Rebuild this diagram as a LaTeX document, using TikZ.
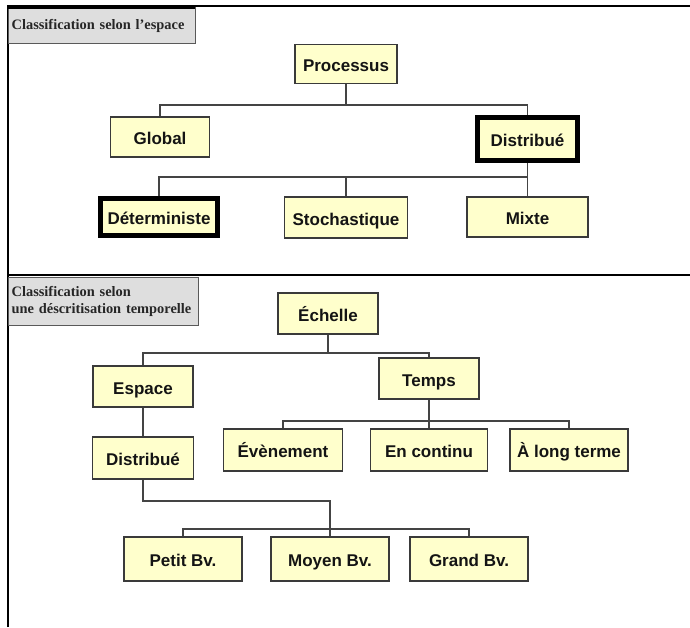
\documentclass[tikz,border=0pt]{standalone}
\usepackage{fontspec}
\setmainfont{Liberation Serif}
\newfontfamily\boxfont{Liberation Sans}
\definecolor{boxfill}{HTML}{FFFFCC}
\definecolor{boxline}{HTML}{3A3A3A}
\definecolor{labfill}{HTML}{DEDEDE}
\definecolor{conn}{HTML}{444444}
\begin{document}
\begin{tikzpicture}[x=1pt,y=-1pt,
  box/.style={draw=boxline, line width=1.4pt, fill=boxfill, inner sep=0pt,
    text height=15.5pt, text depth=0.5pt,
    font=\boxfont\bfseries\fontsize{17}{19}\selectfont, text=black!92},
  thickbox/.style={box, draw=black, line width=5pt},
  lab/.style={draw=black!65, line width=1.3pt, fill=labfill, inner sep=0pt,
    font=\bfseries\fontsize{14.4}{17.5}\selectfont, text=black!85, anchor=north west},
  link/.style={draw=conn, line width=1.4pt},
  frame/.style={draw=black, line width=2pt}]
\useasboundingbox (0,0) rectangle (690,627);
% frame
\draw[frame] (8,627) -- (8,6) -- (690,6);
\draw[frame, line width=1.5pt] (8,275) -- (690,275);
% labels
\node[lab, minimum width=187, minimum height=36, text width=185, align=left] (lab1) at (8,7) {\hspace*{2pt}Classification selon l'espace};
\draw[black, line width=4pt] (8,7) -- (195,7);
\node[lab, minimum width=190, minimum height=48, text width=188, align=left] (lab2) at (8,277)
  {\hspace*{2pt}Classification selon\\\hspace*{2pt}une déscritisation temporelle};
% top tree
\node[box, minimum width=102, minimum height=39] (proc) at (346,64) {Processus};
\node[box, minimum width=99, minimum height=40] (glob) at (160,137) {Global};
\node[thickbox, minimum width=100, minimum height=43] (dist) at (527.5,139) {Distribué};
\node[thickbox, minimum width=117, minimum height=37] (det) at (159,217) {Déterministe};
\node[box, minimum width=123, minimum height=41] (stoch) at (346,217.5) {Stochastique};
\node[box, minimum width=121, minimum height=40] (mixte) at (527.5,217) {Mixte};
\coordinate (j1) at (346,105);
\coordinate (j2) at (527.5,177);
\draw[link] (proc.south) -- (j1);
\draw[link] (j1) -| (glob.north);
\draw[link] (j1) -| (dist.north);
\draw[link] (dist.south) -- (j2);
\draw[link] (j2) -| (det.north);
\draw[link] (stoch.north) -- (stoch.north |- j2);
\draw[link] (j2) -- (mixte.north);
% bottom tree
\node[box, minimum width=100, minimum height=41] (ech) at (328,313.5) {Échelle};
\node[box, minimum width=100, minimum height=41] (esp) at (143,386.5) {Espace};
\node[box, minimum width=100, minimum height=41] (temps) at (429,378.5) {Temps};
\node[box, minimum width=101, minimum height=42] (dist2) at (143,458) {Distribué};
\node[box, minimum width=119, minimum height=42] (even) at (283,450) {Évènement};
\node[box, minimum width=117, minimum height=42] (cont) at (429,450) {En continu};
\node[box, minimum width=118, minimum height=42] (long) at (569,450) {À long terme};
\node[box, minimum width=118, minimum height=44] (petit) at (183,559) {Petit Bv.};
\node[box, minimum width=118, minimum height=44] (moyen) at (330,559) {Moyen Bv.};
\node[box, minimum width=118, minimum height=44] (grand) at (469,559) {Grand Bv.};
\coordinate (k1) at (328,353);
\coordinate (k2) at (429,421);
\coordinate (k3) at (143,501);
\coordinate (k4) at (330,529);
\draw[link] (ech.south) -- (k1);
\draw[link] (k1) -| (esp.north);
\draw[link] (k1) -| (temps.north);
\draw[link] (esp.south) -- (dist2.north);
\draw[link] (temps.south) -- (cont.north);
\draw[link] (k2) -| (even.north);
\draw[link] (k2) -| (long.north);
\draw[link] (dist2.south) -- (k3) -| (moyen.north);
\draw[link] (k4) -| (petit.north);
\draw[link] (k4) -| (grand.north);
\end{tikzpicture}
\end{document}
